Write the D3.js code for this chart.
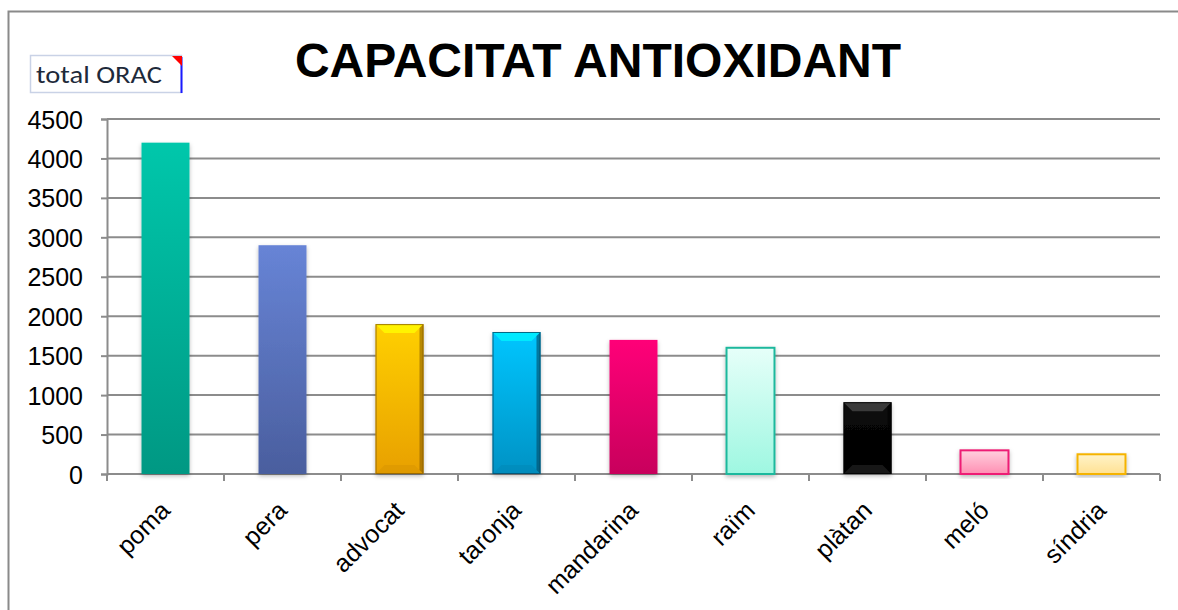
<!DOCTYPE html>
<html><head><meta charset="utf-8">
<script src="https://cdn.jsdelivr.net/npm/d3@7"></script>
<style>
html,body{margin:0;padding:0;background:#fff;}
svg{display:block;}
</style></head>
<body><svg id="c" width="1178" height="610"></svg>
<script>
const categories = ["poma","pera","advocat","taronja","mandarina","raïm","plàtan","meló","síndria"];
const values = [4200, 2900, 1900, 1800, 1700, 1600, 910, 300, 250];
const yTicks = [0,500,1000,1500,2000,2500,3000,3500,4000,4500];
const title = "CAPACITAT ANTIOXIDANT";
const seriesLabel = "total ORAC";
// style per bar: [topColor, bottomColor, strokeColor, bevel]
const barStyles = [
  ["#00c7ab","#009883",null,false],
  ["#6784d6","#4a5e9e",null,false],
  ["#ffd000","#e8a000","#8a5e00",true],
  ["#00c6ff","#0092c4","#044a66",true],
  ["#ff0078","#c8005c",null,false],
  ["#e6fff9","#9ef7e1","#1fb89d",false],
  ["#0a0a0a","#000000","#000",true],
  ["#ffd0de","#ff8fb3","#ee1a74",false],
  ["#fff3c8","#ffe193","#f5b300",false]
];

const svg = d3.select("#c");
const W = 1178, H = 610;
const m = {left:107, right:1160, top:119, bottom:474};

const x = d3.scaleBand().domain(categories).range([m.left, m.right]).paddingInner(0.59).paddingOuter(0.295);
const y = d3.scaleLinear().domain([0,4500]).range([m.bottom, m.top]);

const defs = svg.append("defs");
barStyles.forEach((s,i)=>{
  const g = defs.append("linearGradient").attr("id","g"+i).attr("x1",0).attr("y1",0).attr("x2",0).attr("y2",1);
  g.append("stop").attr("offset","0%").attr("stop-color",s[0]);
  g.append("stop").attr("offset","100%").attr("stop-color",s[1]);
});
const f = defs.append("filter").attr("id","sh").attr("x","-20%").attr("y","-10%").attr("width","140%").attr("height","130%");
f.append("feDropShadow").attr("dx",0).attr("dy",2).attr("stdDeviation",2).attr("flood-color","#000").attr("flood-opacity",0.28);

// outer frame
svg.append("path").attr("d",`M8.5,${H} L8.5,11.5 L${W},11.5`).attr("fill","none").attr("stroke","#8a8a8a").attr("stroke-width",2);

// title
svg.append("text").attr("x",598).attr("y",77).attr("text-anchor","middle")
  .attr("font-family","Liberation Sans, Arial, sans-serif").attr("font-weight","bold").attr("font-size",48)
  .attr("fill","#000").text(title);

// series label box
const lb = svg.append("g");
lb.append("rect").attr("x",30.5).attr("y",55.5).attr("width",151).attr("height",37).attr("fill","#fff").attr("stroke","#c9d2e6").attr("stroke-width",1.5);
lb.append("line").attr("x1",181.5).attr("x2",181.5).attr("y1",57).attr("y2",93).attr("stroke","#1a1aff").attr("stroke-width",2);
lb.append("path").attr("d","M172,56 L182,56 L182,66 Z").attr("fill","#ff0000");
lb.append("text").attr("x",36).attr("y",83).attr("font-family","Carlito, Lato, sans-serif").attr("font-size",25)
  .attr("textLength",126).attr("lengthAdjust","spacingAndGlyphs").attr("fill","#1e2a3a").text(seriesLabel);

// gridlines
svg.append("g").selectAll("line").data(yTicks).join("line")
  .attr("x1",m.left).attr("x2",m.right).attr("y1",d=>y(d)).attr("y2",d=>y(d))
  .attr("stroke","#8c8c8c").attr("stroke-width",2);

// y axis
const ya = svg.append("g").attr("transform",`translate(${m.left},0)`)
  .call(d3.axisLeft(y).tickValues(yTicks).tickSize(6).tickPadding(18).tickFormat(d3.format("d")));
ya.select(".domain").attr("stroke","#8c8c8c").attr("stroke-width",2);
ya.selectAll(".tick line").attr("stroke","#8c8c8c").attr("stroke-width",2);
ya.selectAll("text").attr("font-family","Liberation Sans, Arial, sans-serif").attr("font-size",25).attr("fill","#000").attr("dy","0.36em");

// x axis
svg.append("line").attr("x1",m.left).attr("x2",m.right).attr("y1",m.bottom).attr("y2",m.bottom).attr("stroke","#8c8c8c").attr("stroke-width",2);
const bounds = categories.map(c=>x(c)-x.step()*x.paddingInner()/2).concat([m.right]);
svg.append("g").selectAll("line").data(bounds).join("line")
  .attr("x1",d=>d).attr("x2",d=>d).attr("y1",m.bottom).attr("y2",m.bottom+7)
  .attr("stroke","#8c8c8c").attr("stroke-width",2);

// x labels
svg.append("g").selectAll("text").data(categories).join("text")
  .attr("transform",d=>`translate(${x(d)+x.bandwidth()/2+6},${m.bottom+38}) rotate(-45)`)
  .attr("text-anchor","end")
  .attr("font-family","Liberation Sans, Arial, sans-serif").attr("font-size",25).attr("fill","#000")
  .text(d=>d);

// bars
const bars = svg.append("g");
categories.forEach((c,i)=>{
  const s = barStyles[i];
  const bx = x(c), bw = x.bandwidth(), by = y(values[i]), bh = y(0)-y(values[i]);
  const g = bars.append("g");
  g.append("rect").attr("x",bx).attr("y",by).attr("width",bw).attr("height",bh)
    .attr("fill",`url(#g${i})`).attr("filter","url(#sh)")
    .attr("stroke",s[2] && !s[3] ? s[2] : "none").attr("stroke-width",2);
  if(s[3]){
    const b = Math.min(9, bh/3);
    const topCol = i===6 ? "#4a4a4a" : d3.color(s[0]).brighter(0.6).formatHex();
    const botCol = i===6 ? "#333" : d3.color(s[1]).darker(0.25).formatHex();
    g.append("path").attr("d",`M${bx},${by} L${bx+bw},${by} L${bx+bw-b},${by+b} L${bx+b},${by+b} Z`).attr("fill",topCol).attr("opacity",0.75);
    g.append("path").attr("d",`M${bx},${by+bh} L${bx+bw},${by+bh} L${bx+bw-b},${by+bh-b} L${bx+b},${by+bh-b} Z`).attr("fill",botCol).attr("opacity",0.45);
    g.append("path").attr("d",`M${bx+bw},${by} L${bx+bw},${by+bh} L${bx+bw-4},${by+bh-4} L${bx+bw-4},${by+4} Z`).attr("fill",s[2]).attr("opacity",0.6);
    g.append("rect").attr("x",bx+0.5).attr("y",by+0.5).attr("width",bw-1).attr("height",bh-1).attr("fill","none").attr("stroke",s[2]).attr("stroke-width",1).attr("opacity",0.8);
  }
});
</script></body></html>
